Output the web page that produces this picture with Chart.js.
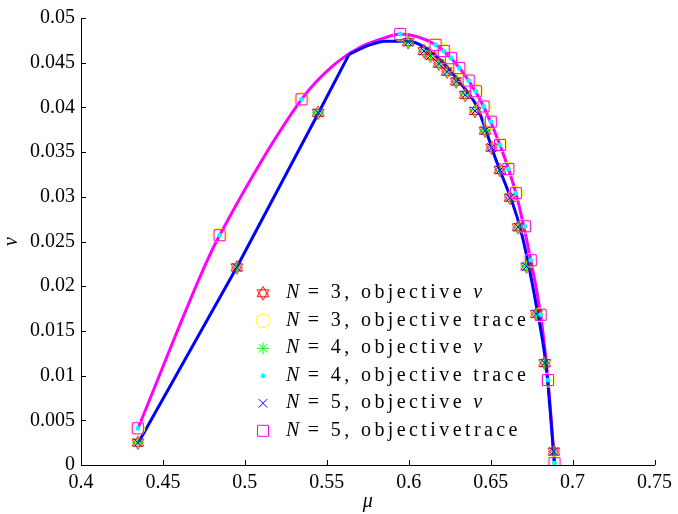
<!DOCTYPE html>
<html>
<head>
<meta charset="utf-8">
<script src="https://cdn.jsdelivr.net/npm/chart.js@4.4.0/dist/chart.umd.min.js"></script>
<style>
body { margin: 0; background: #fff; }
#wrap { position: relative; width: 678px; height: 514px; }
#legend { position: absolute; left: 286px; top: 278px; font-size: 20px; color: #000; }
#legend div { height: 27.5px; line-height: 27.5px; white-space: nowrap; letter-spacing: 3.4px; }
#legend i { letter-spacing: 0; }
</style>
</head>
<body>
<div id="wrap">
  <canvas id="chart"></canvas>
  <div id="legend">
    <div><i>N</i> = 3, objective <i>ν</i></div>
    <div><i>N</i> = 3, objective trace</div>
    <div><i>N</i> = 4, objective <i>ν</i></div>
    <div><i>N</i> = 4, objective trace</div>
    <div><i>N</i> = 5, objective <i>ν</i></div>
    <div><i>N</i> = 5, objectivetrace</div>
  </div>
</div>
<script>
// points (mu, nu)
const mu_nu = [0.4347, 0.4951, 0.5447, 0.5997, 0.6093, 0.6133, 0.6184, 0.6234, 0.6290, 0.6345,
               0.6405, 0.6466, 0.6506, 0.6557, 0.6618, 0.6668, 0.6719, 0.6779, 0.6830, 0.6886];
const nu_nu = [0.0025, 0.0221, 0.0394, 0.0473, 0.0463, 0.0458, 0.0449, 0.0440, 0.0429, 0.0414,
               0.0396, 0.0374, 0.0355, 0.0330, 0.0299, 0.0266, 0.0222, 0.0169, 0.0114, 0.0015];
const mu_trace = [0.4347, 0.4846, 0.5346, 0.5948, 0.6164, 0.6214, 0.6259, 0.6309, 0.6366, 0.6410,
                  0.6457, 0.6501, 0.6557, 0.6608, 0.6654, 0.6709, 0.6745, 0.6805, 0.6850, 0.6890];
const nu_trace = [0.0041, 0.0257, 0.0409, 0.0482, 0.0470, 0.0463, 0.0455, 0.0444, 0.0430, 0.0418,
                  0.0401, 0.0384, 0.0358, 0.0331, 0.0304, 0.0267, 0.0229, 0.0168, 0.0095, 0.0002];
// blue curve: straight rising part, then the rounded part
const mu_line_nu_left = [0.435, 0.495, 0.545, 0.5635];
const nu_line_nu_left = [0.0025, 0.0221, 0.0394, 0.0459];
const mu_line_nu_right = [0.5635, 0.575, 0.5857, 0.5997, 0.610, 0.6214, 0.632, 0.6416, 0.6529,
                          0.6679, 0.6779, 0.684, 0.689];
const nu_line_nu_right = [0.0459, 0.0469, 0.0474, 0.0474, 0.0467, 0.0449, 0.0426, 0.0401, 0.0343,
                          0.0266, 0.0178, 0.0108, 0.0];
// magenta curve
const mu_line_trace = [0.435, 0.4761, 0.4846, 0.5346, 0.5528, 0.570, 0.5857, 0.5948, 0.6164, 0.6259, 0.6366,
                       0.6457, 0.6557, 0.6654, 0.6745, 0.6805, 0.6850, 0.689];
const nu_line_trace = [0.0042, 0.0225, 0.0257, 0.0409, 0.0445, 0.0467, 0.0478, 0.0482, 0.0470, 0.0455, 0.0430,
                       0.0401, 0.0358, 0.0304, 0.0229, 0.0168, 0.0095, 0.0002];
const x_ticks = [0.4, 0.45, 0.5, 0.55, 0.6, 0.65, 0.7, 0.75];
const y_ticks = [0, 0.005, 0.01, 0.015, 0.02, 0.025, 0.03, 0.035, 0.04, 0.045, 0.05];

const serif = "'Liberation Serif', serif";
document.getElementById('legend').style.fontFamily = serif;

const zip = (xs, ys) => xs.map((x, i) => ({x: x, y: ys[i]}));

// red hexagram marker
function make_hexagram() {
    const c = document.createElement('canvas');
    c.width = 16; c.height = 16;
    const g = c.getContext('2d');
    g.strokeStyle = '#ff0000';
    g.lineWidth = 1;
    const r = 6.8;
    [0, Math.PI].forEach(off => {
        g.beginPath();
        for (let k = 0; k < 3; k++) {
            const a = off - Math.PI / 2 + k * 2 * Math.PI / 3;
            const px = 8 + r * Math.cos(a), py = 8 + r * Math.sin(a);
            if (k === 0) g.moveTo(px, py); else g.lineTo(px, py);
        }
        g.closePath();
        g.stroke();
    });
    return c;
}
const hexagram = make_hexagram();

const markers = [
    {label: 'N=3 nu', data: zip(mu_nu, nu_nu), pointStyle: hexagram, pointRadius: 7, borderColor: '#ff0000', backgroundColor: 'rgba(0,0,0,0)', order: 6},
    {label: 'N=3 trace', data: zip(mu_trace, nu_trace), pointStyle: 'circle', pointRadius: 7, borderColor: '#ffff00', backgroundColor: 'rgba(0,0,0,0)', order: 5},
    {label: 'N=4 nu', data: zip(mu_nu, nu_nu), pointStyle: 'star', pointRadius: 6, borderColor: '#00ff00', backgroundColor: 'rgba(0,0,0,0)', order: 4},
    {label: 'N=4 trace', data: zip(mu_trace, nu_trace), pointStyle: 'circle', pointRadius: 2, borderColor: '#00ffff', backgroundColor: '#00ffff', order: 3},
    {label: 'N=5 nu', data: zip(mu_nu, nu_nu), pointStyle: 'crossRot', pointRadius: 6, borderColor: '#0000ff', backgroundColor: 'rgba(0,0,0,0)', order: 2},
    {label: 'N=5 trace', data: zip(mu_trace, nu_trace), pointStyle: 'rect', pointRadius: 7.8, borderColor: '#ff00ff', backgroundColor: 'rgba(0,0,0,0)', order: 1},
];
markers.forEach(d => {
    d.showLine = false;
    d.borderWidth = 1;
    d.pointBorderWidth = 1;
    d.pointHoverRadius = d.pointRadius;
});

const lines = [
    {label: 'curve nu a', data: zip(mu_line_nu_left, nu_line_nu_left), borderColor: '#0000ff', order: 7, tension: 0},
    {label: 'curve nu b', data: zip(mu_line_nu_right, nu_line_nu_right), borderColor: '#0000ff', order: 7, cubicInterpolationMode: 'monotone'},
    {label: 'curve trace', data: zip(mu_line_trace, nu_line_trace), borderColor: '#ff00ff', order: 7, cubicInterpolationMode: 'monotone'},
];
lines.forEach(d => {
    d.showLine = true;
    d.pointRadius = 0;
    d.borderWidth = 3;
    d.borderJoinStyle = 'round';
    d.fill = false;
});

const fmt = v => { const s = +(+v).toFixed(4); return s === 0 ? '0' : String(s); };

// ticks pointing into the plot, only on the two drawn axes
const inward_ticks = {
    id: 'inward_ticks',
    afterDraw(chart) {
        const {ctx, chartArea, scales} = chart;
        ctx.save();
        ctx.strokeStyle = '#000';
        ctx.lineWidth = 1;
        ctx.beginPath();
        x_ticks.forEach(v => {
            const px = Math.round(scales.x.getPixelForValue(v)) + 0.5;
            ctx.moveTo(px, chartArea.bottom);
            ctx.lineTo(px, chartArea.bottom - 5);
        });
        y_ticks.forEach(v => {
            const py = Math.round(scales.y.getPixelForValue(v)) + 0.5;
            ctx.moveTo(chartArea.left, py);
            ctx.lineTo(chartArea.left + 5, py);
        });
        ctx.stroke();
        ctx.restore();
    }
};

// legend symbols drawn with the library's point renderer
const legend_marks = {
    id: 'legend_marks',
    afterDraw(chart) {
        const ctx = chart.ctx;
        markers.forEach((d, i) => {
            ctx.save();
            ctx.strokeStyle = d.borderColor;
            ctx.fillStyle = d.backgroundColor;
            ctx.lineWidth = 1;
            Chart.helpers.drawPoint(ctx, {pointStyle: d.pointStyle, radius: d.pointRadius, borderWidth: 1, rotation: 0}, 263, 293.3 + i * 27.5);
            ctx.restore();
        });
    }
};

const ctx = document.getElementById('chart').getContext('2d');
const chart = new Chart(ctx, {
    type: 'scatter',
    data: {datasets: markers.concat(lines)},
    options: {
        responsive: true,
        maintainAspectRatio: false,
        animation: false,
        events: [],
        layout: {padding: {left: 0, top: 10, right: 19, bottom: 0}},
        plugins: {legend: {display: false}, tooltip: {enabled: false}},
        scales: {
            x: {
                type: 'linear', min: 0.4, max: 0.75,
                afterBuildTicks: s => { s.ticks = x_ticks.map(v => ({value: v})); },
                afterFit: s => { s.height = 49; },
                grid: {display: false, drawTicks: false},
                border: {display: true, color: '#000', width: 1},
                ticks: {callback: fmt, color: '#000', padding: 6, maxRotation: 0, autoSkip: false,
                        font: {family: serif, size: 20}},
                title: {display: true, text: 'μ', color: '#000', padding: 0,
                        font: {family: serif, size: 20, style: 'italic'}}
            },
            y: {
                type: 'linear', min: 0, max: 0.05,
                afterBuildTicks: s => { s.ticks = y_ticks.map(v => ({value: v})); },
                afterFit: s => { s.width = 81; },
                grid: {display: false, drawTicks: false},
                border: {display: true, color: '#000', width: 1},
                ticks: {callback: fmt, color: '#000', padding: 6, autoSkip: false,
                        font: {family: serif, size: 20}},
                title: {display: true, text: 'ν', color: '#000', padding: 0,
                        font: {family: serif, size: 20, style: 'italic'}}
            }
        }
    },
    plugins: [inward_ticks, legend_marks]
});
</script>
</body>
</html>
